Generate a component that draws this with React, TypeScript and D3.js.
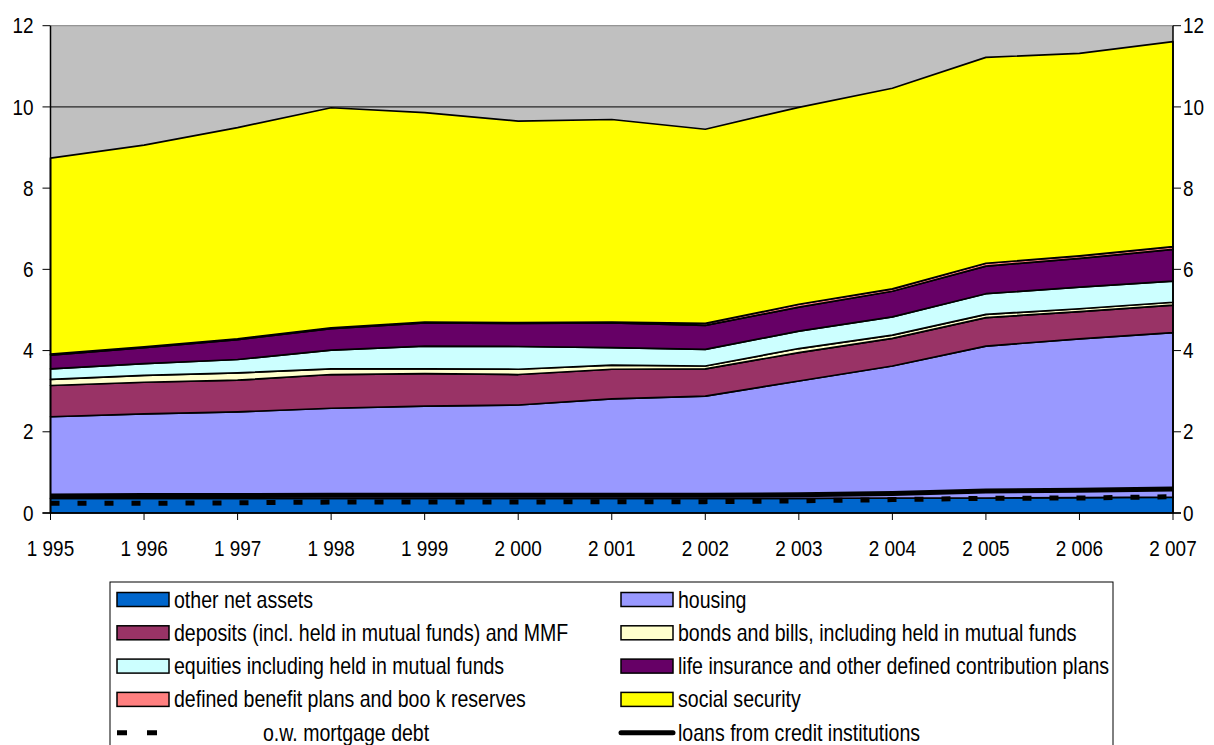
import React from 'react';
import * as d3 from 'd3';

// Years on the horizontal axis (labels use a space as thousands separator)
const years = ['1 995', '1 996', '1 997', '1 998', '1 999', '2 000', '2 001', '2 002', '2 003', '2 004', '2 005', '2 006', '2 007'];

// Stacked components, bottom to top
const otherNetAssets = [0.36, 0.36, 0.36, 0.36, 0.36, 0.36, 0.36, 0.36, 0.36, 0.37, 0.37, 0.38, 0.39];
const housing = [2.01, 2.08, 2.13, 2.22, 2.27, 2.30, 2.45, 2.52, 2.89, 3.25, 3.74, 3.91, 4.05];
const deposits = [0.77, 0.78, 0.78, 0.83, 0.80, 0.75, 0.73, 0.67, 0.70, 0.68, 0.70, 0.67, 0.68];
const bonds = [0.15, 0.17, 0.18, 0.14, 0.12, 0.13, 0.10, 0.07, 0.10, 0.08, 0.08, 0.07, 0.07];
const equities = [0.26, 0.29, 0.33, 0.46, 0.56, 0.56, 0.43, 0.41, 0.43, 0.45, 0.51, 0.53, 0.52];
const lifeInsurance = [0.34, 0.39, 0.49, 0.53, 0.57, 0.57, 0.61, 0.59, 0.59, 0.63, 0.68, 0.71, 0.78];
const definedBenefit = [0.02, 0.02, 0.02, 0.02, 0.02, 0.02, 0.02, 0.05, 0.07, 0.06, 0.07, 0.06, 0.07];
const socialSecurity = [4.83, 4.97, 5.20, 5.42, 5.16, 4.96, 4.99, 4.78, 4.85, 4.94, 5.07, 4.99, 5.05];

// Liability lines
const mortgageDebt = [0.24, 0.24, 0.25, 0.27, 0.27, 0.27, 0.28, 0.28, 0.30, 0.33, 0.36, 0.37, 0.40];
const loansCredit = [0.42, 0.43, 0.43, 0.44, 0.44, 0.44, 0.44, 0.44, 0.45, 0.48, 0.54, 0.56, 0.59];

const yTicks = [0, 2, 4, 6, 8, 10, 12];

const layers = [
  { key: 'other', label: 'other net assets', color: '#0066CC', values: otherNetAssets },
  { key: 'housing', label: 'housing', color: '#9999FF', values: housing },
  { key: 'deposits', label: 'deposits (incl. held in mutual funds) and MMF', color: '#993366', values: deposits },
  { key: 'bonds', label: 'bonds and bills, including held in mutual funds', color: '#FFFFCC', values: bonds },
  { key: 'equities', label: 'equities including held in mutual funds', color: '#CCFFFF', values: equities },
  { key: 'life', label: 'life insurance and other defined contribution plans', color: '#660066', values: lifeInsurance },
  { key: 'db', label: 'defined benefit plans and boo k reserves', color: '#FF8080', values: definedBenefit },
  { key: 'social', label: 'social security', color: '#FFFF00', values: socialSecurity },
];

const FONT = '"Liberation Sans", Arial, sans-serif';

// Horizontally condensed text label
function Label({ x, y, size, anchor = 'start', narrow = 0.86, children }: { x: number; y: number; size: number; anchor?: string; narrow?: number; children: React.ReactNode }) {
  return (
    <text transform={`translate(${x},${y}) scale(${narrow},1)`} dy="0.35em" textAnchor={anchor as any} fontSize={size} fill="#000">
      {children}
    </text>
  );
}

export default function App() {
  const W = 1214;
  const H = 745;
  const left = 50.5;
  const right = 1173;
  const top = 25.7;
  const bottom = 513;

  const x = d3.scalePoint<string>().domain(years).range([left, right]);
  const y = d3.scaleLinear().domain([0, 12]).range([bottom, top]);

  const rows = years.map((yr, i) => {
    const r: Record<string, number | string> = { year: yr };
    layers.forEach((l) => (r[l.key] = l.values[i]));
    return r;
  });
  const stacked = d3.stack<any>().keys(layers.map((l) => l.key))(rows);

  const area = d3
    .area<any>()
    .x((d) => x(d.data.year as string) as number)
    .y0((d) => y(d[0]))
    .y1((d) => y(d[1]));

  const line = d3
    .line<number>()
    .x((_, i) => x(years[i]) as number)
    .y((d) => y(d));

  // legend layout: two columns, five rows
  const legendLeft = [layers[0], layers[2], layers[4], layers[6]];
  const legendRight = [layers[1], layers[3], layers[5], layers[7]];
  const rowY = (i: number) => 599.5 + i * 33.3;
  const LN = 0.85;

  return (
    <svg width={W} height={H} style={{ position: 'absolute', left: 0, top: 0, background: '#fff' }} fontFamily={FONT}>
      {/* plot background */}
      <rect x={left} y={top} width={right - left} height={bottom - top} fill="#C0C0C0" />
      {yTicks.slice(1, -1).map((t) => (
        <line key={t} x1={left} x2={right} y1={y(t)} y2={y(t)} stroke="#000" strokeWidth={1} />
      ))}
      <line x1={left} x2={right} y1={top} y2={top} stroke="#808080" strokeWidth={1} />

      {/* stacked areas */}
      {stacked.map((s, i) => (
        <path key={s.key} d={area(s) as string} fill={layers[i].color} stroke="#000" strokeWidth={1.7} strokeLinejoin="round" />
      ))}

      {/* liability lines */}
      <path d={line(loansCredit) as string} fill="none" stroke="#000" strokeWidth={5} />
      <path d={line(mortgageDebt) as string} fill="none" stroke="#000" strokeWidth={5} strokeDasharray="9 18" />

      {/* axes */}
      <line x1={left} x2={left} y1={top} y2={bottom} stroke="#000" strokeWidth={1.5} />
      <line x1={right} x2={right} y1={top} y2={bottom} stroke="#000" strokeWidth={1.5} />
      <line x1={left - 8} x2={right + 8} y1={bottom} y2={bottom} stroke="#000" strokeWidth={1.5} />
      {yTicks.map((t) => (
        <g key={t}>
          <line x1={left - 8} x2={left} y1={y(t)} y2={y(t)} stroke="#000" strokeWidth={1} />
          <line x1={right} x2={right + 8} y1={y(t)} y2={y(t)} stroke="#000" strokeWidth={1} />
          <Label x={33.5} y={y(t)} size={22} anchor="end">{t}</Label>
          <Label x={1183} y={y(t)} size={22}>{t}</Label>
        </g>
      ))}
      {years.map((yr) => (
        <g key={yr}>
          <line x1={x(yr)} x2={x(yr)} y1={bottom} y2={bottom + 7} stroke="#000" strokeWidth={1} />
          <Label x={x(yr) as number} y={548} size={22} anchor="middle">{yr}</Label>
        </g>
      ))}

      {/* legend */}
      <rect x={110} y={582} width={1003} height={180} fill="#fff" stroke="#000" strokeWidth={1} />
      {legendLeft.map((l, i) => (
        <g key={l.key}>
          <rect x={117} y={rowY(i) - 7} width={52} height={14} fill={l.color} stroke="#000" strokeWidth={1.5} />
          <Label x={174} y={rowY(i)} size={23} narrow={LN}>{l.label}</Label>
        </g>
      ))}
      {legendRight.map((l, i) => (
        <g key={l.key}>
          <rect x={621} y={rowY(i) - 7} width={52} height={14} fill={l.color} stroke="#000" strokeWidth={1.5} />
          <Label x={678} y={rowY(i)} size={23} narrow={LN}>{l.label}</Label>
        </g>
      ))}
      <line x1={117} x2={168} y1={rowY(4)} y2={rowY(4)} stroke="#000" strokeWidth={5} strokeDasharray="10 20" />
      <Label x={263} y={rowY(4)} size={23} narrow={LN}>o.w. mortgage debt</Label>
      <line x1={621} x2={673} y1={rowY(4)} y2={rowY(4)} stroke="#000" strokeWidth={5} strokeLinecap="round" />
      <Label x={678} y={rowY(4)} size={23} narrow={LN}>loans from credit institutions</Label>
    </svg>
  );
}
